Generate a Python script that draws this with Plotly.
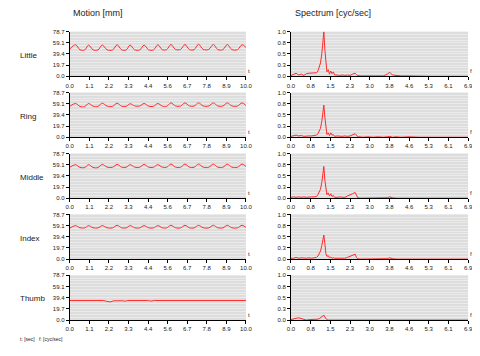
import plotly.graph_objects as go

rows = ["Little", "Ring", "Middle", "Index", "Thumb"]

# Motion [mm] vs t [sec]  (peak, then the flat trough, for each cycle)
t_motion = [0.0, 0.33, 0.58, 0.85, 1.07, 1.32, 1.60, 1.85, 2.12, 2.43, 2.69, 2.94, 3.20,
            3.43, 3.68, 3.97, 4.22, 4.47, 4.75, 5.00, 5.25, 5.50, 5.74, 6.00, 6.29, 6.54,
            6.79, 7.06, 7.31, 7.57, 7.89, 8.15, 8.40, 8.69, 8.94, 9.20, 9.52, 9.78, 10.0]
little = [48.0, 55.5, 46.8, 46.5, 55.0, 46.8, 46.5, 55.0, 46.8, 46.5, 55.5, 46.8, 46.5,
          55.0, 46.8, 46.5, 55.0, 46.8, 46.5, 55.5, 47.0, 47.0, 56.0, 47.5, 47.5, 56.0,
          47.2, 47.0, 56.5, 47.5, 47.5, 56.0, 47.2, 47.0, 56.0, 47.2, 47.0, 55.5, 51.0]
ring = [54.5, 59.5, 54.3, 54.0, 59.5, 54.8, 54.5, 60.0, 54.8, 54.5, 60.0, 54.8, 54.5,
        59.0, 55.2, 55.0, 59.5, 54.8, 54.5, 59.5, 54.8, 54.5, 60.5, 55.2, 55.0, 60.5,
        55.2, 55.0, 60.5, 55.2, 55.0, 60.5, 55.2, 55.0, 60.5, 55.2, 55.0, 60.5, 56.0]
middle = [54.5, 59.0, 54.2, 54.0, 59.0, 54.2, 54.0, 59.5, 54.7, 54.5, 59.5, 54.7, 54.5,
          59.0, 54.7, 54.5, 59.5, 54.7, 54.5, 59.0, 54.7, 54.5, 60.0, 54.7, 54.5, 60.0,
          54.7, 54.5, 60.0, 54.7, 54.5, 60.0, 54.7, 54.5, 60.0, 54.7, 54.5, 60.0, 56.0]
index = [54.5, 59.0, 55.2, 55.0, 59.0, 55.2, 55.0, 59.0, 55.2, 55.0, 59.5, 55.2, 55.0,
         59.0, 55.2, 55.0, 59.0, 55.2, 55.0, 59.0, 55.2, 55.0, 59.5, 55.2, 55.0, 59.5,
         55.2, 55.0, 59.5, 55.2, 55.0, 59.5, 55.2, 55.0, 59.5, 55.2, 55.0, 59.5, 56.0]
t_thumb = [0.0, 1.1, 1.3, 1.5, 1.9, 2.1, 2.3, 2.5, 2.8, 3.0, 3.15, 3.3, 4.4, 4.6, 4.8,
           8.4, 8.6, 8.8, 9.2, 9.35, 9.5, 10.0]
thumb = [34.5, 34.5, 33.5, 34.5, 34.5, 33.0, 32.0, 34.0, 34.5, 34.0, 33.3, 34.5, 34.5, 33.5, 34.5,
         34.5, 33.5, 34.5, 34.5, 33.5, 34.5, 34.5]

# Spectrum vs f [cyc/sec]
f_spec = [0.0, 0.1, 0.2, 0.3, 0.4, 0.5, 0.6, 0.7, 0.8, 0.9,
          1.0, 1.05, 1.1, 1.15, 1.2, 1.25, 1.28, 1.32, 1.36, 1.4,
          1.45, 1.5, 1.55, 1.6, 1.65, 1.7, 1.8, 1.9, 2.0, 2.1,
          2.2, 2.3, 2.4, 2.5, 2.55, 2.6, 2.7, 2.8, 3.0, 3.2,
          3.4, 3.6, 3.75, 3.85, 3.95, 4.1, 4.3, 4.6, 5.0, 5.5,
          6.0, 6.5, 6.9]
spec_little = [0.02, 0.04, 0.07, 0.03, 0.05, 0.02, 0.06, 0.07, 0.07, 0.07,
               0.08, 0.12, 0.22, 0.30, 0.50, 0.85, 1.00, 0.60, 0.25, 0.10,
               0.15, 0.05, 0.12, 0.06, 0.10, 0.03, 0.03, 0.02, 0.03, 0.02,
               0.03, 0.02, 0.05, 0.07, 0.04, 0.02, 0.01, 0.01, 0.00, 0.01,
               0.00, 0.01, 0.05, 0.09, 0.03, 0.02, 0.01, 0.01, 0.00, 0.00,
               0.00, 0.00, 0.00]
spec_ring = [0.02, 0.03, 0.05, 0.03, 0.04, 0.02, 0.03, 0.03, 0.03, 0.04,
             0.05, 0.08, 0.15, 0.20, 0.35, 0.60, 0.72, 0.45, 0.20, 0.06,
             0.10, 0.04, 0.10, 0.05, 0.06, 0.02, 0.03, 0.02, 0.02, 0.03,
             0.02, 0.03, 0.05, 0.08, 0.05, 0.01, 0.01, 0.00, 0.01, 0.00,
             0.01, 0.00, 0.01, 0.02, 0.00, 0.01, 0.00, 0.01, 0.00, 0.00,
             0.00, 0.00, 0.00]
spec_middle = [0.02, 0.03, 0.02, 0.03, 0.02, 0.03, 0.02, 0.03, 0.03, 0.03,
               0.04, 0.08, 0.14, 0.20, 0.35, 0.62, 0.71, 0.40, 0.15, 0.08,
               0.12, 0.05, 0.10, 0.04, 0.06, 0.02, 0.02, 0.03, 0.02, 0.02,
               0.05, 0.07, 0.10, 0.13, 0.05, 0.01, 0.00, 0.00, 0.00, 0.00,
               0.00, 0.00, 0.01, 0.03, 0.01, 0.00, 0.00, 0.00, 0.00, 0.00,
               0.00, 0.00, 0.00]
spec_index = [0.02, 0.02, 0.04, 0.02, 0.03, 0.02, 0.02, 0.03, 0.02, 0.03,
              0.04, 0.07, 0.12, 0.18, 0.30, 0.48, 0.54, 0.35, 0.12, 0.06,
              0.08, 0.03, 0.05, 0.02, 0.03, 0.02, 0.02, 0.03, 0.02, 0.02,
              0.04, 0.06, 0.08, 0.11, 0.04, 0.01, 0.00, 0.00, 0.00, 0.00,
              0.00, 0.00, 0.01, 0.03, 0.01, 0.00, 0.00, 0.00, 0.00, 0.00,
              0.00, 0.00, 0.00]
spec_thumb = [0.01, 0.03, 0.04, 0.05, 0.03, 0.01, 0.00, 0.01, 0.01, 0.01,
              0.01, 0.02, 0.03, 0.05, 0.08, 0.10, 0.11, 0.07, 0.03, 0.01,
              0.00, 0.00, 0.00, 0.00, 0.00, 0.00, 0.00, 0.00, 0.00, 0.00,
              0.01, 0.00, 0.01, 0.01, 0.00, 0.00, 0.00, 0.00, 0.00, 0.00,
              0.00, 0.00, 0.00, 0.00, 0.00, 0.00, 0.00, 0.00, 0.00, 0.00,
              0.00, 0.00, 0.00]

motion_ticks = [0, 19.675, 39.35, 59.025, 78.7]
motion_ticktext = ["0.0", "19.7", "39.4", "59.1", "78.7"]
spec_ticks = [0, 0.25, 0.5, 0.75, 1.0]
spec_ticktext = ["0.0", "0.3", "0.5", "0.8", "1.0"]
t_ticks = [0, 10/9, 20/9, 30/9, 40/9, 50/9, 60/9, 70/9, 80/9, 10]
t_ticktext = ["0.0", "1.1", "2.2", "3.3", "4.4", "5.6", "6.7", "7.8", "8.9", "10.0"]
f_ticks = [i * 6.9 / 9 for i in range(10)]
f_ticktext = ["0.0", "0.8", "1.5", "2.3", "3.0", "3.8", "4.6", "5.3", "6.1", "6.9"]

motion_x = [t_motion, t_motion, t_motion, t_motion, t_thumb]
motion_y = [little, ring, middle, index, thumb]
spec_y = [spec_little, spec_ring, spec_middle, spec_index, spec_thumb]

# page body has an 8px margin: figure is 472x348 and positions are shifted by 8px
OFF = 8
W, H = 472, 348
tops = [29, 91, 153, 215, 277]
ph = 45.5


def px(x):
    return (x - OFF) / W


def py(y):
    return 1 - (y - OFF) / H


LX = (px(67), px(247))
RX = (px(293), px(474))

fig = go.Figure()
layout = dict(width=W, height=H, margin=dict(l=0, r=0, t=0, b=0),
              paper_bgcolor="white", plot_bgcolor="#dddddd", showlegend=False,
              font=dict(family="Liberation Sans, Arial", size=6, color="#222222"))
tickfont = dict(size=6, color="#222222")
annotations = []

for i, name in enumerate(rows):
    top = tops[i]
    ydom = (py(top + ph), py(top))
    for j in range(2):
        k = 2 * i + j + 1
        ax = "" if k == 1 else str(k)
        if j == 0:
            fig.add_trace(go.Scatter(x=motion_x[i], y=motion_y[i], mode="lines",
                                     line=dict(color="#ff2a2a", width=1,
                                               shape="spline" if i < 4 else "linear",
                                               smoothing=1.0),
                                     xaxis="x" + ax, yaxis="y" + ax, hoverinfo="skip"))
            xr, xt, xtt = [0, 10], t_ticks, t_ticktext
            yr, yt, ytt = [0, 78.7], motion_ticks, motion_ticktext
            dom = LX
        else:
            fig.add_trace(go.Scatter(x=f_spec, y=spec_y[i], mode="lines",
                                     line=dict(color="#ff2a2a", width=1),
                                     xaxis="x" + ax, yaxis="y" + ax, hoverinfo="skip"))
            xr, xt, xtt = [0, 6.9], f_ticks, f_ticktext
            yr, yt, ytt = [0, 1.0], spec_ticks, spec_ticktext
            dom = RX
        layout["xaxis" + ax] = dict(domain=list(dom), range=xr, anchor="y" + ax,
                                    tickvals=xt, ticktext=xtt, ticks="outside", ticklen=3,
                                    tickcolor="#000", showline=True, linecolor="#000",
                                    linewidth=1, showgrid=False, zeroline=False,
                                    tickfont=tickfont, fixedrange=True)
        layout["yaxis" + ax] = dict(domain=list(ydom), range=yr, anchor="x" + ax,
                                    tickvals=yt, ticktext=ytt, ticks="outside", ticklen=3,
                                    tickcolor="#000", showline=True, linecolor="#000",
                                    linewidth=1, showgrid=False, zeroline=False,
                                    tickfont=tickfont, fixedrange=True,
                                    minor=dict(tick0=0, dtick=(yr[1]) / 16, showgrid=True,
                                               gridcolor="#ebebeb", gridwidth=1))
        annotations.append(dict(text="t" if j == 0 else "f",
                                x=px((247 if j == 0 else 474) + 3),
                                y=py(top + ph), xref="paper", yref="paper",
                                showarrow=False, font=dict(size=6, color="#222"),
                                xanchor="center", yanchor="bottom"))
    annotations.append(dict(text=name, x=px(14), y=py(top + 24),
                            xref="paper", yref="paper", showarrow=False,
                            xanchor="left", yanchor="middle",
                            font=dict(size=8, color="#222")))

annotations.append(dict(text="Motion [mm]", x=px(68), y=py(10), xref="paper", yref="paper",
                        showarrow=False, xanchor="left", yanchor="middle",
                        font=dict(size=9, color="#222")))
annotations.append(dict(text="Spectrum [cyc/sec]", x=px(295), y=py(10), xref="paper",
                        yref="paper", showarrow=False, xanchor="left", yanchor="middle",
                        font=dict(size=9, color="#222")))
annotations.append(dict(text="t: [sec]   f: [cyc/sec]", x=px(14), y=py(342), xref="paper",
                        yref="paper", showarrow=False, xanchor="left", yanchor="middle",
                        font=dict(size=5, color="#222")))
layout["annotations"] = annotations
fig.update_layout(**layout)
fig.write_html("out.html")
